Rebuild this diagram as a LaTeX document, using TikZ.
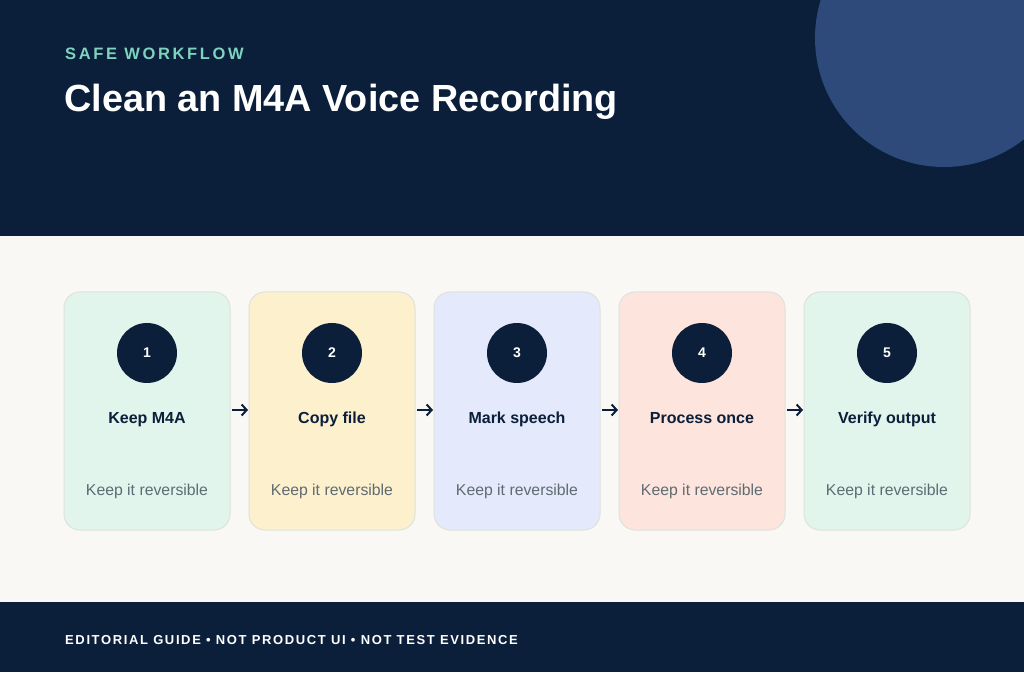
\documentclass[tikz,border=0pt]{standalone}
\usepackage{fontspec}
\setmainfont{Liberation Sans}
\usepackage{xcolor}
\definecolor{cNavy}{HTML}{0B1F3A}
\definecolor{cMoon}{HTML}{2E4A7A}
\definecolor{cBand}{HTML}{F9F8F4}
\definecolor{cTeal}{HTML}{7DD3C0}
\definecolor{cMint}{HTML}{E1F5EC}
\definecolor{cSand}{HTML}{FDF0CD}
\definecolor{cSky}{HTML}{E4E9FB}
\definecolor{cRose}{HTML}{FDE4DD}
\definecolor{cEdge}{HTML}{DCE3DC}
\definecolor{cMuted}{HTML}{5F6B73}
\usepackage{tikz}
\usetikzlibrary{positioning, arrows.meta}

\begin{document}
\begin{tikzpicture}[x=1pt, y=1pt,
    card/.style={draw=cEdge, line width=1pt, rounded corners=16pt, outer sep=0pt,
                 minimum width=166pt, minimum height=238pt, inner sep=0pt},
    badge/.style={circle, fill=cNavy, text=white, minimum size=60pt, inner sep=0pt,
                  font=\bfseries\fontsize{14}{16}\selectfont},
    steptitle/.style={anchor=base, text=cNavy, font=\bfseries\fontsize{16}{19}\selectfont},
    stepnote/.style={anchor=base, text=cMuted, font=\fontsize{15.8}{18}\selectfont},
    arr/.style={-{Straight Barb[length=5pt, width=11pt]}, line width=2pt, color=cNavy,
                shorten <=2pt, shorten >=1pt},
    node distance=19pt
]
\useasboundingbox (0,0) rectangle (1024,672);
% background bands
\fill[cNavy] (0,436) rectangle (1024,672);
\fill[cBand] (0,70) rectangle (1024,436);
\fill[cNavy] (0,0) rectangle (1024,70);
\begin{scope}
  \clip (0,436) rectangle (1024,672);
  \fill[cMoon] (944,634) circle (129);
\end{scope}

% header texts
\node[anchor=base west, inner sep=0pt, text=cTeal,
      font=\bfseries\fontsize{16.5}{19}\selectfont\addfontfeatures{LetterSpace=16}]
  (kicker) at (65,612) {SAFE WORKFLOW};
\node[anchor=base west, inner sep=0pt, text=white,
      font=\bfseries\fontsize{37.8}{44}\selectfont]
  (headline) at (64,560) {Clean an M4A Voice Recording};

% step cards
\node[card, fill=cMint] (c1) at (147,261) {};
\node[card, fill=cSand, right=of c1] (c2) {};
\node[card, fill=cSky, right=of c2] (c3) {};
\node[card, fill=cRose, right=of c3] (c4) {};
\node[card, fill=cMint, right=of c4] (c5) {};

\node[badge] (b1) at ([yshift=58pt]c1.center) {1};
\node[badge] (b2) at ([yshift=58pt]c2.center) {2};
\node[badge] (b3) at ([yshift=58pt]c3.center) {3};
\node[badge] (b4) at ([yshift=58pt]c4.center) {4};
\node[badge] (b5) at ([yshift=58pt]c5.center) {5};

\node[steptitle] (t1) at ([yshift=-13pt]c1.center) {Keep M4A};
\node[steptitle] (t2) at ([yshift=-13pt]c2.center) {Copy file};
\node[steptitle] (t3) at ([yshift=-13pt]c3.center) {Mark speech};
\node[steptitle] (t4) at ([yshift=-13pt]c4.center) {Process once};
\node[steptitle] (t5) at ([yshift=-13pt]c5.center) {Verify output};

\node[stepnote] (n1) at ([yshift=-84pt]c1.center) {Keep it reversible};
\node[stepnote] (n2) at ([yshift=-84pt]c2.center) {Keep it reversible};
\node[stepnote] (n3) at ([yshift=-84pt]c3.center) {Keep it reversible};
\node[stepnote] (n4) at ([yshift=-84pt]c4.center) {Keep it reversible};
\node[stepnote] (n5) at ([yshift=-84pt]c5.center) {Keep it reversible};

\draw[arr] ([yshift=1pt]c1.east) -- ([yshift=1pt]c2.west);
\draw[arr] ([yshift=1pt]c2.east) -- ([yshift=1pt]c3.west);
\draw[arr] ([yshift=1pt]c3.east) -- ([yshift=1pt]c4.west);
\draw[arr] ([yshift=1pt]c4.east) -- ([yshift=1pt]c5.west);

% footer
\node[anchor=base west, inner sep=0pt, text=white,
      font=\bfseries\fontsize{13}{15}\selectfont\addfontfeatures{LetterSpace=12.5}]
  (footnote) at (65,28) {EDITORIAL GUIDE • NOT PRODUCT UI • NOT TEST EVIDENCE};
\end{tikzpicture}
\end{document}
